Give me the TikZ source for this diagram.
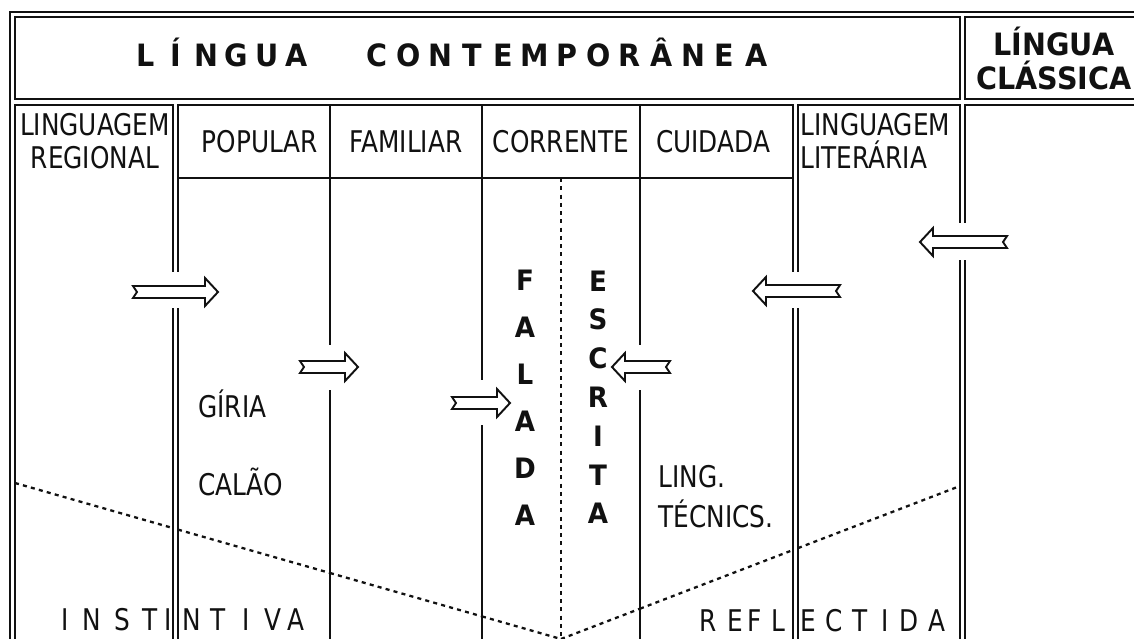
\documentclass[tikz,border=0pt]{standalone}
\usepackage{fontspec}
\newfontfamily\cadfont[FakeStretch=0.83]{DejaVu Sans}
\newfontfamily\cadbold[FakeStretch=0.93]{DejaVu Sans}
\usepackage{xcolor}
\definecolor{ink}{HTML}{111111}
\usepackage{tikz}

\tikzset{
  edge/.style={draw=ink, line width=1.2pt},
  dotline/.style={draw=ink, line width=1.3pt, dash pattern=on 2.3pt off 2.4pt},
  txt/.style={font=\cadfont\fontsize{17}{20}\selectfont, text=ink, inner sep=0pt},
  hdr/.style={font=\cadbold\bfseries\fontsize{17.5}{20}\selectfont, text=ink, inner sep=0pt},
  vert/.style={font=\cadbold\bfseries\fontsize{16}{18}\selectfont, text=ink, inner sep=0pt},
  pics/hollowarrow/.style={code={
    \draw[ink, line width=1.1pt, fill=white, line join=miter]
      (0,-6) -- (#1-13,-6) -- (#1-13,-14) -- (#1,0) -- (#1-13,14)
      -- (#1-13,6) -- (0,6) -- (4,0) -- cycle;
  }},
}

\begin{document}
\begin{tikzpicture}[x=0.02cm, y=-0.02cm]
  \useasboundingbox (0,0) rectangle (1134,639);
  \clip (0,0) rectangle (1134,639);
  \fill[white] (0,0) rectangle (1134,639);

  % caixas: linhas duplas com 5 px entre si
  \draw[edge] (10,12) rectangle (1150,660);
  \draw[edge] (15,17) rectangle (960,99);
  \draw[edge] (965,17) rectangle (1150,99);
  \draw[edge] (15,105) rectangle (173,660);
  \draw[edge] (178,105) rectangle (793,660);
  \draw[edge] (798,105) rectangle (960,660);
  \draw[edge] (965,105) rectangle (1150,660);

  % registos: popular | familiar | corrente | cuidada
  \draw[edge] (178,178) -- (793,178);
  \draw[edge] (330,105) -- (330,660) (482,105) -- (482,660) (640,105) -- (640,660);
  \draw[dotline] (561,178) -- (561,639);

  % V pontilhado (instintiva / reflectida)
  \draw[dotline] (15,483) -- (173,528.1);
  \draw[dotline] (178,529.6) -- (330,573);
  \draw[dotline] (330,573) -- (482,616.4);
  \draw[dotline] (482,616.4) -- (561,639);
  \draw[dotline] (561,639) -- (640,608.7);
  \draw[dotline] (640,608.7) -- (793,550);
  \draw[dotline] (798,548.1) -- (960,486);

  % aberturas nas linhas onde passam as setas
  \fill[white] (169,272) rectangle (182,308);
  \fill[white] (326,345) rectangle (334,390);
  \fill[white] (478,380) rectangle (486,425);
  \fill[white] (636,345) rectangle (644,390);
  \fill[white] (789,272) rectangle (802,308);
  \fill[white] (956,223) rectangle (969,260);

  % setas ocas
  \pic at (133,292) {hollowarrow=85};
  \pic at (300,367) {hollowarrow=58};
  \pic at (452,403) {hollowarrow=58};
  \pic[xscale=-1] at (670,367) {hollowarrow=58};
  \pic[xscale=-1] at (840,291) {hollowarrow=87};
  \pic[xscale=-1] at (1007,242) {hollowarrow=87};

  % titulo espacejado
  \foreach \c [count=\i from 0] in {L,Í,N,G,U,A}
    \node[hdr, anchor=base] (lca-\i) at (146+30.2*\i,67) {\c};
  \foreach \c [count=\i from 0] in {C,O,N,T,E,M,P,O,R,Â,N,E,A}
    \node[hdr, anchor=base] (lcb-\i) at (377+31.6*\i,67) {\c};
  \node[hdr, anchor=base] (classA) at (1054,55) {LÍNGUA};
  \node[hdr, anchor=base] (classB) at (1054,90) {CLÁSSICA};

  % cabecalhos das colunas
  \node[txt, anchor=base] (regA) at (95,135) {LINGUAGEM};
  \node[txt, anchor=base] (regB) at (95,168) {REGIONAL};
  \node[txt, anchor=base] (popular) at (260,153) {POPULAR};
  \node[txt, anchor=base] (familiar) at (406,153) {FAMILIAR};
  \node[txt, anchor=base] (corrente) at (561,153) {CORRENTE};
  \node[txt, anchor=base] (cuidada) at (713,153) {CUIDADA};
  \node[txt, anchor=base west] (litA) at (800,135) {LINGUAGEM};
  \node[txt, anchor=base west] (litB) at (800,168) {LITERÁRIA};

  % textos soltos
  \node[txt, anchor=base west] (giria) at (198,417) {GÍRIA};
  \node[txt, anchor=base west] (calao) at (198,495) {CALÃO};
  \node[txt, anchor=base west] (lingA) at (658,487) {LING.};
  \node[txt, anchor=base west] (lingB) at (658,527) {TÉCNICS.};

  % falada / escrita na vertical
  \foreach \c [count=\i from 0] in {F,A,L,A,D,A}
    \node[vert, anchor=base] (fal-\i) at (525,290+47*\i) {\c};
  \foreach \c [count=\i from 0] in {E,S,C,R,I,T,A}
    \node[vert, anchor=base] (esc-\i) at (598,291+38.8*\i) {\c};

  % instintiva / reflectida
  \foreach \x/\c [count=\i] in {65/I,92/N,122/S,150/T,168/I,192/N,218/T,246/I,273/V,296/A}
    \node[txt, anchor=base] (inst-\i) at (\x,630) {\c};
  \foreach \x/\c [count=\i] in {708/R,735/E,755/F,778/L,808/E,834/C,860/T,885/I,909/D,937/A}
    \node[txt, anchor=base] (refl-\i) at (\x,631) {\c};
\end{tikzpicture}
\end{document}
